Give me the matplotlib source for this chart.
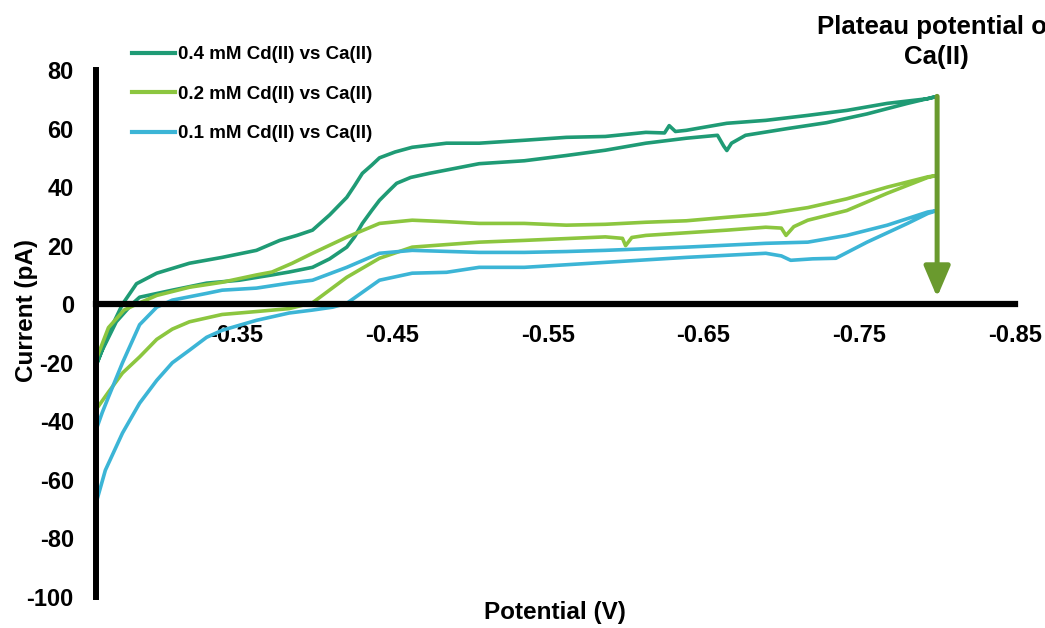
import matplotlib
matplotlib.use("Agg")
import matplotlib.pyplot as plt
from matplotlib.lines import Line2D

plt.rcParams['font.family'] = ['Liberation Sans', 'DejaVu Sans']
plt.rcParams['font.weight'] = 'bold'
plt.rcParams['axes.unicode_minus'] = False

# ---- data ----
labels = ["0.4 mM Cd(II) vs Ca(II)", "0.2 mM Cd(II) vs Ca(II)", "0.1 mM Cd(II) vs Ca(II)"]
colors = ["#1f9b75", "#8cc63f", "#3cb5d6"]

# 0.4 mM: forward (lower) branch and return (upper) branch
cd04_fwd_x = [-0.260, -0.264, -0.273, -0.283, -0.288, -0.309, -0.331, -0.352, -0.373, -0.384,
              -0.399, -0.410, -0.421, -0.426, -0.431, -0.437, -0.442, -0.448, -0.453, -0.462,
              -0.474, -0.506, -0.535, -0.562, -0.587, -0.613, -0.639, -0.659, -0.663, -0.665,
              -0.668, -0.677, -0.704, -0.729, -0.755, -0.781, -0.800]
cd04_fwd_y = [-21, -15.7, -6, 0, 2.4, 4.8, 7.2, 8.2, 10, 11,
              12.6, 15.5, 19.5, 23, 27.6, 32, 35.5, 38.7, 41.3, 43.3,
              44.7, 48, 49, 50.8, 52.6, 55, 56.7, 57.7, 54, 52.5,
              55, 57.7, 60, 62, 65, 68.6, 71]
cd04_rev_x = [-0.260, -0.268, -0.277, -0.286, -0.299, -0.320, -0.341, -0.363, -0.378, -0.389,
              -0.399, -0.410, -0.421, -0.426, -0.431, -0.437, -0.442, -0.452, -0.463, -0.485,
              -0.506, -0.535, -0.562, -0.587, -0.613, -0.625, -0.628, -0.632, -0.639, -0.665,
              -0.690, -0.717, -0.742, -0.768, -0.794, -0.800]
cd04_rev_y = [-21, -10, 0, 7, 10.6, 14, 16, 18.4, 21.8, 23.5,
              25.3, 30.5, 36.5, 40.5, 44.7, 47.5, 50, 52, 53.6, 55,
              55, 56, 57, 57.3, 58.7, 58.5, 61, 59, 59.4, 61.8,
              62.8, 64.5, 66.2, 68.6, 70.2, 71]

# 0.2 mM
cd02_fwd_x = [-0.260, -0.268, -0.277, -0.288, -0.299, -0.309, -0.320, -0.341, -0.363, -0.384,
              -0.399, -0.421, -0.442, -0.463, -0.506, -0.535, -0.587, -0.598, -0.600, -0.604,
              -0.613, -0.665, -0.690, -0.700, -0.703, -0.708, -0.717, -0.742, -0.768, -0.794,
              -0.800]
cd02_fwd_y = [-36, -30, -23.5, -18, -12, -8.5, -6, -3.5, -2.5, -1.5,
              0.5, 9.2, 15.7, 19.5, 21.2, 21.8, 23, 22.5, 20, 22.8,
              23.5, 25.3, 26.3, 26, 23.5, 26.5, 28.7, 32, 37.9, 43.3,
              44]
cd02_rev_x = [-0.260, -0.268, -0.278, -0.286, -0.299, -0.320, -0.341, -0.363, -0.373, -0.386,
              -0.399, -0.421, -0.442, -0.463, -0.485, -0.506, -0.535, -0.562, -0.587, -0.613,
              -0.639, -0.665, -0.690, -0.717, -0.742, -0.768, -0.794, -0.800]
cd02_rev_y = [-19, -8, -2, 0, 3, 5.8, 7.5, 10, 11, 14,
              17.4, 22.9, 27.6, 28.7, 28.2, 27.6, 27.6, 27, 27.3, 28,
              28.5, 29.7, 30.8, 33, 36, 40, 43.5, 44]

# 0.1 mM
cd01_fwd_x = [-0.260, -0.266, -0.277, -0.288, -0.299, -0.309, -0.320, -0.331, -0.341, -0.363,
              -0.384, -0.399, -0.412, -0.421, -0.442, -0.463, -0.485, -0.506, -0.535, -0.587,
              -0.639, -0.690, -0.700, -0.706, -0.720, -0.735, -0.755, -0.781, -0.794, -0.800]
cd01_fwd_y = [-68, -56.7, -44, -33.8, -26, -20, -15.7, -11.3, -8.9, -5.5,
              -3, -2, -1, 0.3, 8.2, 10.6, 10.9, 12.6, 12.6, 14.3,
              16, 17.4, 16.5, 15, 15.5, 15.7, 21.2, 27.6, 31, 32]
cd01_rev_x = [-0.260, -0.264, -0.268, -0.277, -0.288, -0.299, -0.309, -0.331, -0.341, -0.363,
              -0.384, -0.399, -0.421, -0.442, -0.463, -0.506, -0.535, -0.562, -0.587, -0.639,
              -0.690, -0.717, -0.742, -0.768, -0.794, -0.800]
cd01_rev_y = [-43, -37, -31.7, -20, -7, -1, 1.4, 3.7, 4.8, 5.5,
              7.2, 8.2, 12.6, 17.4, 18.4, 17.7, 17.7, 18, 18.4, 19.5,
              20.8, 21.2, 23.5, 27, 31.5, 32]

x_ticks = [-0.35, -0.45, -0.55, -0.65, -0.75, -0.85]
x_ticklabels = ["-0.35", "-0.45", "-0.55", "-0.65", "-0.75", "-0.85"]
y_ticks = [80, 60, 40, 20, 0, -20, -40, -60, -80, -100]
y_ticklabels = ["80", "60", "40", "20", "0", "-20", "-40", "-60", "-80", "-100"]

plateau_x = -0.80
plateau_top = 71
plateau_bottom = 2.4

# ---- figure ----
fig = plt.figure(figsize=(10.45, 6.28), dpi=100)
ax = fig.add_axes([96 / 1045, 31 / 628, 919 / 1045, 527 / 628])

series = [
    (cd04_fwd_x, cd04_fwd_y, cd04_rev_x, cd04_rev_y),
    (cd02_fwd_x, cd02_fwd_y, cd02_rev_x, cd02_rev_y),
    (cd01_fwd_x, cd01_fwd_y, cd01_rev_x, cd01_rev_y),
]
for (fx, fy, rx, ry), c in zip(series, colors):
    xs = list(fx) + list(reversed(rx))
    ys = list(fy) + list(reversed(ry))
    ax.plot(xs, ys, color=c, lw=2.6, solid_joinstyle='round')

ax.set_xlim(-0.26, -0.85)
ax.set_ylim(-100, 80)

for s in ['top', 'right']:
    ax.spines[s].set_visible(False)
ax.spines['bottom'].set_position(('data', 0))
ax.spines['bottom'].set_linewidth(4.5)
ax.spines['left'].set_linewidth(4.3)

ax.set_xticks(x_ticks)
ax.set_xticklabels(x_ticklabels)
ax.set_yticks(y_ticks)
ax.set_yticklabels(y_ticklabels)
ax.tick_params(axis='both', length=0, labelsize=17)
ax.tick_params(axis='x', pad=14)
ax.tick_params(axis='y', pad=16)
for lab in ax.get_xticklabels() + ax.get_yticklabels():
    lab.set_fontweight('bold')

# arrow for plateau potential
ax.annotate('', xy=(plateau_x, plateau_bottom), xytext=(plateau_x, plateau_top),
            arrowprops=dict(arrowstyle='-|>,head_length=0.75,head_width=0.32',
                            lw=3.6, color='#6a9a2e', mutation_scale=25,
                            shrinkA=0, shrinkB=0))

fig.text(936 / 1045, 1 - 42 / 628, "Plateau potential of\nCa(II)", ha='center', va='center',
         fontsize=18.6, fontweight='bold', linespacing=1.3)

fig.text(27 / 1045, 1 - 310 / 628, "Current (pA)", rotation=90, ha='center', va='center',
         fontsize=17.5, fontweight='bold')
fig.text(555 / 1045, 1 - 612 / 628, "Potential (V)", ha='center', va='center',
         fontsize=17.5, fontweight='bold')

handles = [Line2D([0], [0], color=c, lw=3) for c in colors]
leg = fig.legend(handles, labels, loc='upper left',
                 bbox_to_anchor=(132 / 1045, 1 - 46 / 628),
                 frameon=False, prop={'weight': 'bold', 'size': 13.5},
                 handlelength=2.3, handletextpad=0.15, labelspacing=1.2,
                 borderpad=0, borderaxespad=0)

fig.savefig("out.png", dpi=100)
